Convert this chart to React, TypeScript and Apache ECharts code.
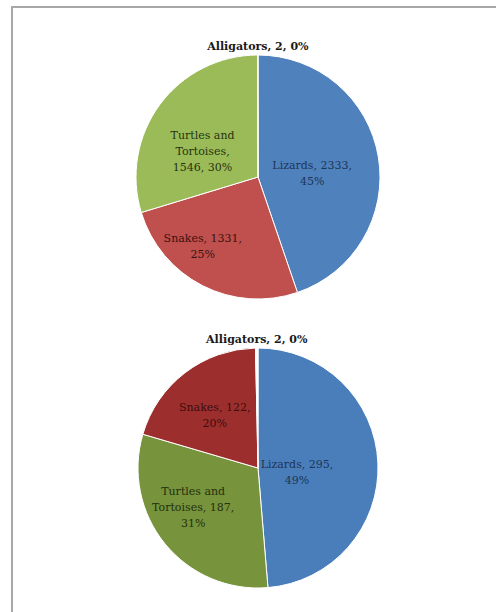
import React, { useEffect, useRef } from "react";
import * as echarts from "echarts";

// ---- Data ----
const categories1 = ["Lizards", "Snakes", "Turtles and Tortoises", "Alligators"];
const values1 = [2333, 1331, 1546, 2];
const percents1 = [45, 25, 30, 0];

const categories2 = ["Lizards", "Turtles and Tortoises", "Snakes", "Alligators"];
const values2 = [295, 187, 122, 2];
const percents2 = [49, 31, 20, 0];

// ---- Styles ----
const colors1 = ["#4f81bd", "#c0504d", "#9bbb59", "#ffffff"];
const colors2 = ["#4a7ebb", "#77933c", "#9c2f2d", "#ffffff"];
const textColors1 = ["#1c3556", "#3a1010", "#25340f", "#1a1a1a"];
const textColors2 = ["#1c3556", "#25300c", "#3e0c0c", "#1a1a1a"];
// label nudges (px) from default inside position
const nudges1 = [[-9, 7], [-26, 13], [-4, 13], [0, 0]];
const nudges2 = [[-24, 7], [-16, 0], [-5, -2], [0, 0]];
const FONT = "'DejaVu Serif', 'Liberation Serif', serif";

function buildSeries(
  cats: string[],
  vals: number[],
  pcts: number[],
  colors: string[],
  textColors: string[],
  nudges: number[][],
  center: [number, number],
  radius: number,
  turtleSecondLine: boolean
) {
  const smallIdx = vals.indexOf(Math.min(...vals));
  return {
    type: "pie",
    center,
    radius,
    startAngle: 90,
    clockwise: true,
    minAngle: 0,
    avoidLabelOverlap: false,
    itemStyle: { borderColor: "#ffffff", borderWidth: 1 },
    emphasis: { disabled: true },
    data: cats.map((name, i) => {
      const isSmall = i === smallIdx;
      let text: string;
      if (isSmall) {
        text = `${name}, ${vals[i]}, ${pcts[i]}%`;
      } else if (name.indexOf(" Tortoises") >= 0) {
        const n = name.replace(" Tortoises", "\nTortoises");
        text = turtleSecondLine
          ? `${n}, ${vals[i]},\n${pcts[i]}%`
          : `${n},\n${vals[i]}, ${pcts[i]}%`;
      } else {
        text = `${name}, ${vals[i]},\n${pcts[i]}%`;
      }
      return {
        name,
        value: vals[i],
        itemStyle: { color: colors[i] },
        label: {
          show: true,
          position: isSmall ? "outside" : "inside",
          formatter: text,
          color: textColors[i],
          fontFamily: FONT,
          fontSize: 11,
          fontWeight: isSmall ? "bold" : "normal",
          lineHeight: 16,
          align: "center",
        },
        labelLine: { show: false },
      };
    }),
    labelLayout: (p: any) => {
      if (p.dataIndex === smallIdx) {
        return {
          x: p.rect.x + p.rect.width / 2,
          y: p.rect.y - 8,
          align: "center",
          verticalAlign: "middle",
        };
      }
      const o = nudges[p.dataIndex] || [0, 0];
      return { dx: o[0], dy: o[1] };
    },
  };
}

export default function App() {
  const ref = useRef<HTMLDivElement>(null);
  useEffect(() => {
    if (!ref.current) return;
    const chart = echarts.init(ref.current, undefined, { renderer: "svg" });
    chart.setOption({
      animation: false,
      backgroundColor: "#ffffff",
      graphic: [
        {
          type: "rect",
          z: -10,
          shape: { x: 12, y: 7, width: 600, height: 700 },
          style: { fill: "none", stroke: "#a8a8a8", lineWidth: 2 },
        },
      ],
      series: [
        buildSeries(categories1, values1, percents1, colors1, textColors1, nudges1, [258, 177], 122, false),
        buildSeries(categories2, values2, percents2, colors2, textColors2, nudges2, [258, 468], 120, true),
      ],
    });
    return () => chart.dispose();
  }, []);
  return (
    <div
      ref={ref}
      style={{ position: "fixed", left: 0, top: 0, width: 496, height: 612 }}
    />
  );
}
